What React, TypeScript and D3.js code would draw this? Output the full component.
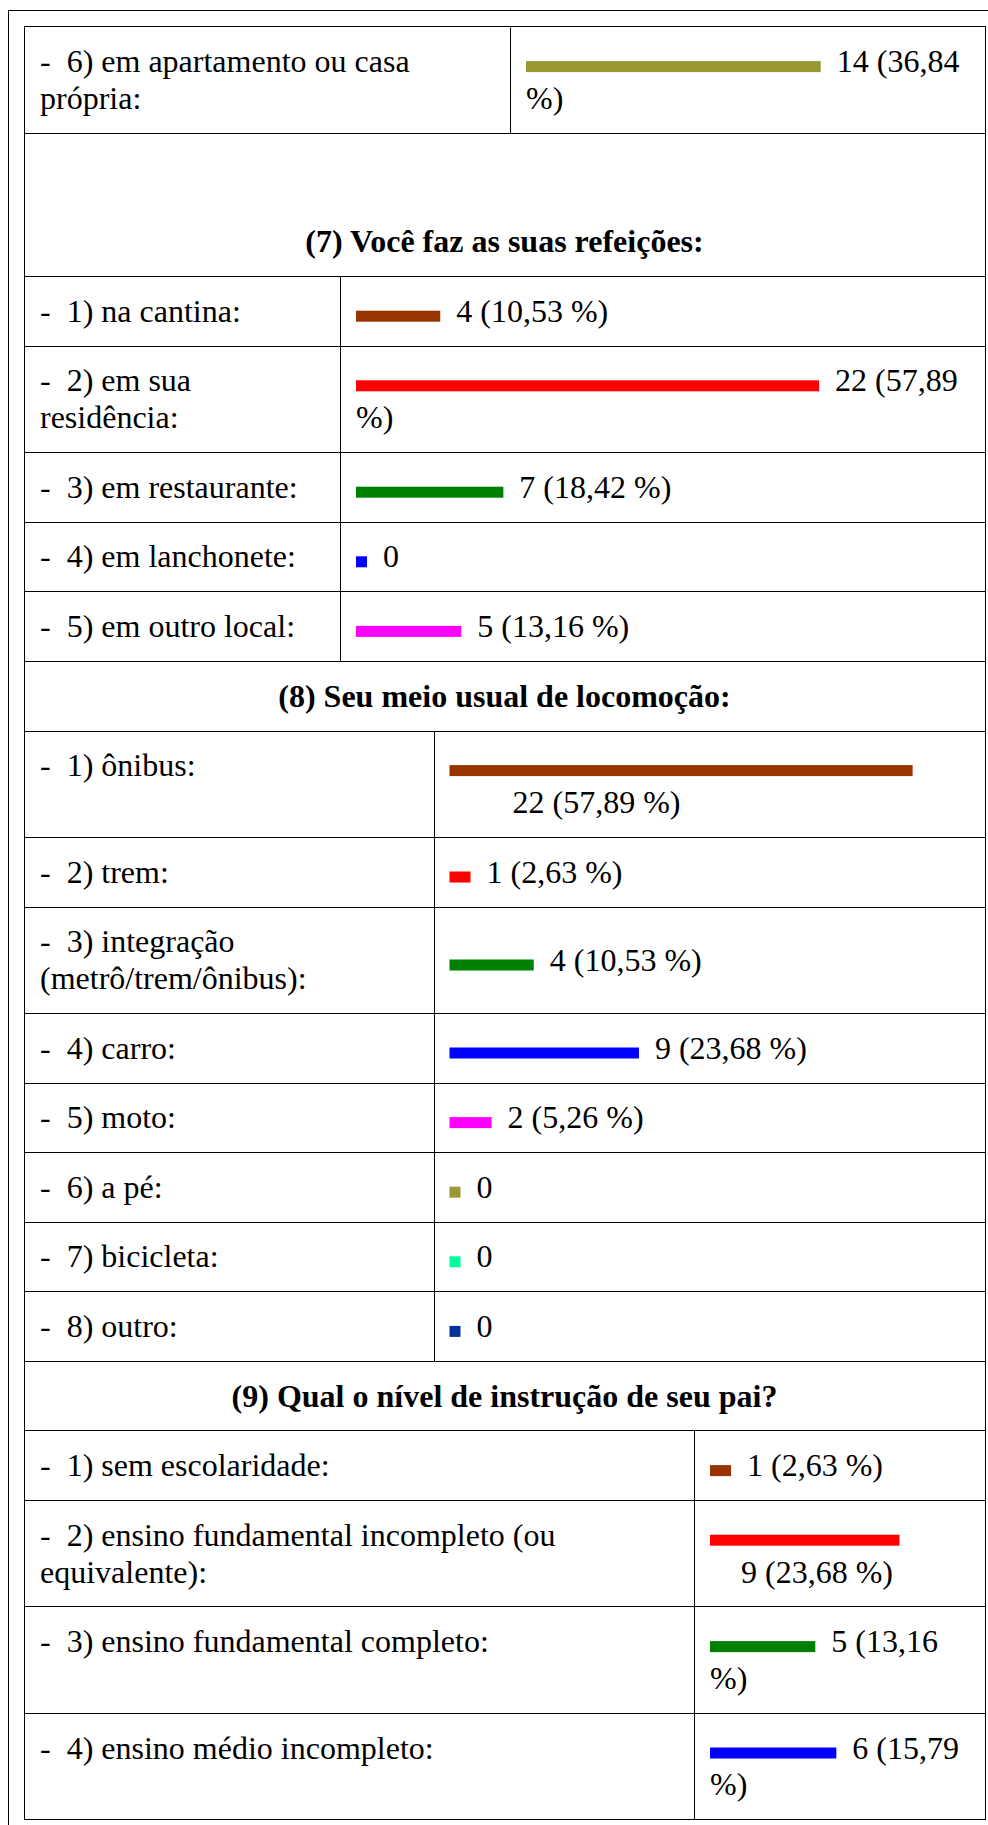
import React from 'react';
import * as d3 from 'd3';

const W = 988;
const H = 1825;
const FONT = "'Liberation Serif', 'Times New Roman', Times, serif";
const FS = 32;
const LINE = 36.8; // line box height
const PAD = 16.4; // cell padding top/bottom
const ASC = 29.2; // baseline offset inside a line box

// (6) continued from previous page
const q6Labels = ['6) em apartamento ou casa própria:'];
const q6Counts = [14];
const q6Pcts = ['36,84'];
const q6Colors = ['#999933'];

// (7)
const q7Title = '(7) Você faz as suas refeições:';
const q7Labels = ['1) na cantina:', '2) em sua residência:', '3) em restaurante:', '4) em lanchonete:', '5) em outro local:'];
const q7Counts = [4, 22, 7, 0, 5];
const q7Pcts = ['10,53', '57,89', '18,42', '0', '13,16'];
const q7Colors = ['#993300', '#ff0000', '#008000', '#0000ff', '#ff00ff'];

// (8)
const q8Title = '(8) Seu meio usual de locomoção:';
const q8Labels = ['1) ônibus:', '2) trem:', '3) integração (metrô/trem/ônibus):', '4) carro:', '5) moto:', '6) a pé:', '7) bicicleta:', '8) outro:'];
const q8Counts = [22, 1, 4, 9, 2, 0, 0, 0];
const q8Pcts = ['57,89', '2,63', '10,53', '23,68', '5,26', '0', '0', '0'];
const q8Colors = ['#993300', '#ff0000', '#008000', '#0000ff', '#ff00ff', '#999933', '#00ff99', '#003399'];

// (9)
const q9Title = '(9) Qual o nível de instrução de seu pai?';
const q9Labels = ['1) sem escolaridade:', '2) ensino fundamental incompleto (ou equivalente):', '3) ensino fundamental completo:', '4) ensino médio incompleto:'];
const q9Counts = [1, 9, 5, 6];
const q9Pcts = ['2,63', '23,68', '13,16', '15,79'];
const q9Colors = ['#993300', '#ff0000', '#008000', '#0000ff'];

// table geometry
const TABLE_LEFT = 24;
const TABLE_RIGHT = 985;
const TABLE_TOP = 26.5;
const CELL_PAD_X = 16;

const sections = [
  { title: null, blank: 0, labels: q6Labels, counts: q6Counts, pcts: q6Pcts, colors: q6Colors, divider: 510, indent: 0 },
  { title: q7Title, blank: 2, labels: q7Labels, counts: q7Counts, pcts: q7Pcts, colors: q7Colors, divider: 340, indent: 0 },
  { title: q8Title, blank: 0, labels: q8Labels, counts: q8Counts, pcts: q8Pcts, colors: q8Colors, divider: 433.5, indent: 63 },
  { title: q9Title, blank: 0, labels: q9Labels, counts: q9Counts, pcts: q9Pcts, colors: q9Colors, divider: 694, indent: 31 },
];

const barScale = d3.scaleLinear().domain([0, 100]).range([0, 800]);

let ctx: CanvasRenderingContext2D | null = null;
const measure = (s: string, bold = false) => {
  if (!ctx) ctx = document.createElement('canvas').getContext('2d');
  if (!ctx) return s.length * FS * 0.45;
  ctx.font = `${bold ? 'bold ' : ''}${FS}px ${FONT}`;
  return ctx.measureText(s).width;
};

const wrap = (text: string, maxW: number) => {
  const words = text.split(' ');
  const lines: string[] = [];
  let cur = '';
  words.forEach((w) => {
    const t = cur ? cur + ' ' + w : w;
    if (cur && measure(t) > maxW) {
      lines.push(cur);
      cur = w;
    } else cur = t;
  });
  if (cur) lines.push(cur);
  return lines;
};

const crisp = (v: number) => Math.round(v) + 0.5;

const App = () => {
  const space = measure(' ');
  const els: React.ReactNode[] = [];
  const hLines: number[] = [];
  const vLines: { x: number; y1: number; y2: number }[] = [];
  let y = TABLE_TOP;
  let key = 0;

  sections.forEach((sec) => {
    if (sec.title) {
      const h = 2 * PAD + (sec.blank + 1) * LINE;
      els.push(
        <text key={key++} x={(TABLE_LEFT + TABLE_RIGHT) / 2} y={y + PAD + sec.blank * LINE + ASC}
          textAnchor="middle" fontWeight="bold">{sec.title}</text>
      );
      y += h;
      hLines.push(y);
    }
    const secTop = y;
    const labelMax = sec.divider - CELL_PAD_X - (TABLE_LEFT + CELL_PAD_X);
    const vStart = sec.divider + CELL_PAD_X;
    const avail = TABLE_RIGHT - CELL_PAD_X - vStart;

    sec.labels.forEach((label, i) => {
      const labelLines = wrap('-\u00a0\u00a0' + label, labelMax);
      const count = sec.counts[i];
      const pct = sec.pcts[i];
      const bw = Math.max(11, barScale(parseFloat(pct.replace(',', '.'))));
      const words = count > 0 ? [`${count}\u00a0(${pct}`, '%)'] : ['0'];
      const placed: { x: number; line: number; t: string }[] = [];
      let line = 0;
      let cur = bw + 16;
      words.forEach((w, wi) => {
        const ww = measure(w);
        if (wi === 0) {
          if (cur + ww > avail) {
            line++;
            cur = sec.indent;
          }
          placed.push({ x: cur, line, t: w });
          cur += ww;
        } else {
          if (cur + space + ww > avail) {
            line++;
            cur = 0;
          } else cur += space;
          placed.push({ x: cur, line, t: w });
          cur += ww;
        }
      });
      const valueLines = line + 1;
      const rowLines = Math.max(labelLines.length, valueLines);
      const rowH = 2 * PAD + rowLines * LINE;

      labelLines.forEach((t, li) => {
        els.push(
          <text key={key++} x={TABLE_LEFT + CELL_PAD_X} y={y + PAD + li * LINE + ASC}>{t}</text>
        );
      });
      const vTop = y + PAD + ((rowLines - valueLines) * LINE) / 2;
      const base0 = vTop + ASC;
      els.push(
        <rect key={key++} x={vStart} y={base0 - 11} width={bw} height={11} fill={sec.colors[i]} />
      );
      placed.forEach((p) => {
        els.push(
          <text key={key++} x={vStart + p.x} y={vTop + p.line * LINE + ASC}>{p.t}</text>
        );
      });
      y += rowH;
      hLines.push(y);
    });
    vLines.push({ x: sec.divider, y1: secTop, y2: y });
  });

  const bottom = y;

  return (
    <svg width={W} height={H} style={{ position: 'absolute', left: 0, top: 0, background: '#fff' }}
      fontFamily={FONT} fontSize={FS} fill="#000">
      <rect x={0} y={0} width={W} height={H} fill="#fff" />
      {/* outer frame */}
      <line x1={8.5} y1={10.5} x2={W} y2={10.5} stroke="#000" />
      <line x1={8.5} y1={10.5} x2={8.5} y2={H} stroke="#000" />
      {/* inner table border */}
      <rect x={TABLE_LEFT + 0.5} y={crisp(TABLE_TOP) - 1} width={TABLE_RIGHT - TABLE_LEFT}
        height={crisp(bottom) - crisp(TABLE_TOP) + 1} fill="none" stroke="#000" />
      {hLines.map((hy, i) => (
        <line key={'h' + i} x1={TABLE_LEFT} x2={TABLE_RIGHT + 1} y1={crisp(hy)} y2={crisp(hy)} stroke="#000" />
      ))}
      {vLines.map((v, i) => (
        <line key={'v' + i} x1={crisp(v.x)} x2={crisp(v.x)} y1={crisp(v.y1)} y2={crisp(v.y2)} stroke="#000" />
      ))}
      {els}
    </svg>
  );
};

export default App;
